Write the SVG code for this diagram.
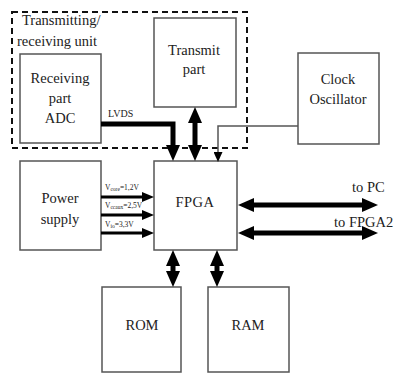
<svg xmlns="http://www.w3.org/2000/svg" width="396" height="374" viewBox="0 0 396 374">
<style>
.box{fill:#fff;stroke:#555;stroke-width:1.5}
.t{font-family:"Liberation Serif","Times New Roman",serif;font-size:14.5px;fill:#222;text-anchor:middle}
.s{font-family:"Liberation Serif","Times New Roman",serif;fill:#222}
.thick{fill:none;stroke:#000;stroke-width:5}
.pw{fill:none;stroke:#000;stroke-width:3}
.thin{fill:none;stroke:#555;stroke-width:1.5}
</style>
<defs>
<marker id="big" markerUnits="userSpaceOnUse" markerWidth="16" markerHeight="14" viewBox="0 0 16 14" refX="6" refY="7" orient="auto-start-reverse"><path d="M0,0 L16,7 L0,14 z" fill="#000"/></marker>
<marker id="med" markerUnits="userSpaceOnUse" markerWidth="12" markerHeight="10" viewBox="0 0 12 10" refX="4" refY="5" orient="auto"><path d="M0,0 L12,5 L0,10 z" fill="#000"/></marker>
<marker id="sm" markerUnits="userSpaceOnUse" markerWidth="10" markerHeight="9" viewBox="0 0 10 9" refX="3" refY="4.5" orient="auto"><path d="M0,0 L10,4.5 L0,9 z" fill="#000"/></marker>
</defs>
<rect width="396" height="374" fill="#fff"/>
<g id="unit">
<rect x="12" y="12" width="235" height="136" fill="none" stroke="#111" stroke-width="2" stroke-dasharray="6,4"/>
<text class="s" x="22" y="25" font-size="14.5">Transmitting/</text>
<text class="s" x="17" y="46" font-size="14.5">receiving unit</text>
</g>
<g id="receiving">
<rect class="box" x="20" y="54" width="81" height="89"/>
<text class="t" x="60" y="83" font-size="16">Receiving</text>
<text class="t" x="60" y="103" font-size="16">part</text>
<text class="t" x="60" y="123" font-size="16">ADC</text>
</g>
<g id="transmit">
<rect class="box" x="154" y="18" width="82" height="89"/>
<text class="t" x="194" y="55" font-size="16">Transmit</text>
<text class="t" x="194" y="74" font-size="16">part</text>
</g>
<g id="clock">
<rect class="box" x="298" y="53" width="81" height="91"/>
<text class="t" x="338" y="84" font-size="15">Clock</text>
<text class="t" x="338" y="104" font-size="15">Oscillator</text>
</g>
<g id="power">
<rect class="box" x="20" y="161" width="81" height="89"/>
<text class="t" x="60" y="203" font-size="15">Power</text>
<text class="t" x="60" y="224" font-size="15">supply</text>
</g>
<g id="fpga">
<rect class="box" x="154" y="161" width="83" height="89"/>
<text class="t" x="195" y="207" font-size="20" letter-spacing="0.5">FPGA</text>
</g>
<g id="rom">
<rect class="box" x="102" y="287" width="79" height="85"/>
<text class="t" x="142" y="330" font-size="16">ROM</text>
</g>
<g id="ram">
<rect class="box" x="208" y="287" width="81" height="85"/>
<text class="t" x="248" y="330" font-size="16">RAM</text>
</g>
<g id="connectors">
<path class="thick" d="M101,124 H173 V151" stroke-width="4" marker-end="url(#big)"/>
<text class="s" x="108" y="117" font-size="10">LVDS</text>
<path class="thick" d="M195,117 V151" marker-start="url(#big)" marker-end="url(#big)"/>
<path class="thin" d="M298,126 H218 V155" marker-end="url(#sm)"/>
<path class="pw" d="M101,197 H146" marker-end="url(#med)"/>
<path class="pw" d="M101,215 H146" marker-end="url(#med)"/>
<path class="pw" d="M101,233 H146" marker-end="url(#med)"/>
<text class="s" x="105" y="190" font-size="7.5">V<tspan font-size="5.5" dy="1">core</tspan><tspan dy="-1">=1,2V</tspan></text>
<text class="s" x="105" y="208" font-size="7.5">V<tspan font-size="5.5" dy="1">ccaux</tspan><tspan dy="-1">=2,5V</tspan></text>
<text class="s" x="105" y="227" font-size="7.5">V<tspan font-size="5.5" dy="1">io</tspan><tspan dy="-1">=3,3V</tspan></text>
<path class="thick" d="M248,205 H368" marker-start="url(#big)" marker-end="url(#big)"/>
<path class="thick" d="M248,233 H368" marker-start="url(#big)" marker-end="url(#big)"/>
<text class="s" x="352" y="192" font-size="14.5">to PC</text>
<text class="s" x="334" y="227" font-size="14.5">to FPGA2</text>
<path class="thick" d="M173,260 V277" marker-start="url(#big)" marker-end="url(#big)"/>
<path class="thick" d="M217,260 V277" marker-start="url(#big)" marker-end="url(#big)"/>
</g>
</svg>
